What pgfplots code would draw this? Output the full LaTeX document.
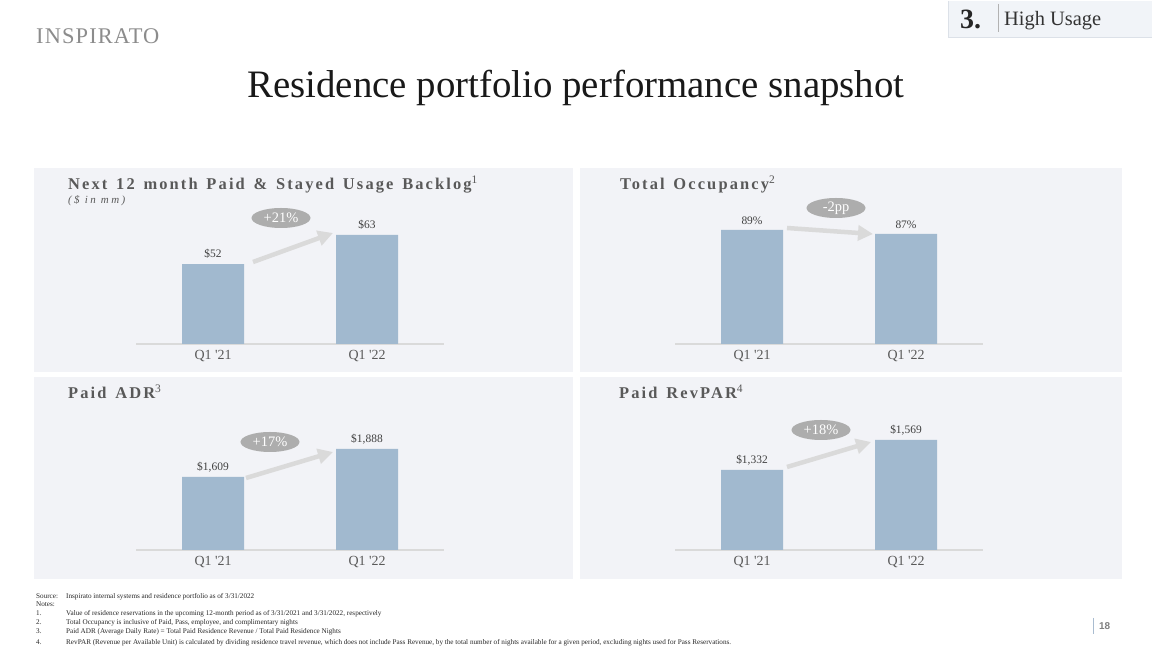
\documentclass[border=0pt]{standalone}
\usepackage{pgfplots}
\pgfplotsset{compat=1.18}
\usepackage{fontspec}
\setmainfont{Liberation Serif}
\newfontfamily\trackfont[LetterSpace=13, WordSpace=1.4]{Liberation Serif}
\newfontfamily\subfont[LetterSpace=22]{Liberation Serif}
\newfontfamily\logofont[LetterSpace=5]{Liberation Serif}
\newfontfamily\sansfont{Liberation Sans}
\usetikzlibrary{arrows.meta,shapes.geometric}
\definecolor{panelbg}{HTML}{F2F3F7}
\definecolor{barblue}{HTML}{A1B9CF}
\definecolor{txtgray}{HTML}{595959}
\definecolor{lblgray}{HTML}{404040}
\definecolor{pillgray}{HTML}{ADADAD}
\definecolor{arrowgray}{HTML}{DADADA}
\definecolor{boxbg}{HTML}{F1F4F8}
\definecolor{boxline}{HTML}{DCE1E8}
\definecolor{pgline}{HTML}{A9BCD0}
\newcommand{\fnsup}[1]{\textsuperscript{\mdseries #1}}
\pgfplotsset{panel/.style={
  scale only axis, width=308bp, height=150bp,
  xmin=-0.5, xmax=1.5,
  axis x line=bottom, axis y line=none,
  axis line style={draw=arrowgray, line width=1.2bp, -},
  xtick={0,1}, xticklabels={Q1 \textquotesingle21, Q1 \textquotesingle22},
  major tick length=0pt, xtick style={draw=none},
  xticklabel style={font=\fontsize{14}{16}\selectfont, text=txtgray, yshift=-3bp},
  ybar, bar width=62bp,
  nodes near coords, point meta=explicit symbolic,
  every node near coord/.append style={font=\fontsize{11.5}{13}\selectfont, text=lblgray, anchor=south, inner sep=0pt, yshift=5bp},
  anchor=south west,
}}
\begin{document}
\begin{tikzpicture}
\useasboundingbox (0,0) rectangle (1152bp,648bp);
\fill[white] (0,0) rectangle (1152bp,648bp);
\begin{scope}[x=1bp, y=-1bp, yshift=648bp]
  % panels
  \fill[panelbg] (34,168) rectangle (573,372);
  \fill[panelbg] (580,168) rectangle (1122,372);
  \fill[panelbg] (34,377) rectangle (573,579);
  \fill[panelbg] (580,377) rectangle (1122,579);
  % logo
  \node[anchor=base west, inner sep=0pt, text=black!45] at (36,44) {\logofont\fontsize{22.5}{24}\selectfont INSPIRATO};
  % top right box
  \fill[boxbg] (948,1) rectangle (1152,37);
  \draw[boxline, line width=0.8bp] (948,1) -- (948,37) -- (1152,37);
  \node[anchor=base west, inner sep=0pt, text=black!85] at (960,29) {\fontsize{28}{29}\selectfont\bfseries 3.};
  \draw[black!30, line width=0.8bp] (998,4) -- (998,32);
  \node[anchor=base west, inner sep=0pt, text=black!80] at (1004,26) {\fontsize{20.5}{22}\selectfont High Usage};
  % title
  \node[anchor=base, inner sep=0pt, text=black!90] at (576,98) {\fontsize{39}{42}\selectfont Residence portfolio performance snapshot};
  % panel titles
  \node[anchor=base west, inner sep=0pt, text=txtgray] at (68,190) {\trackfont\bfseries\fontsize{16.5}{18}\selectfont Next 12 month Paid \& Stayed Usage Backlog\fnsup{1}};
  \node[anchor=base west, inner sep=0pt, text=txtgray] at (68,204) {\subfont\itshape\fontsize{11}{12}\selectfont (\$ in mm)};
  \node[anchor=base west, inner sep=0pt, text=txtgray] at (620,190) {\trackfont\bfseries\fontsize{16.5}{18}\selectfont Total Occupancy\fnsup{2}};
  \node[anchor=base west, inner sep=0pt, text=txtgray] at (68,399) {\trackfont\bfseries\fontsize{16.5}{18}\selectfont Paid ADR\fnsup{3}};
  \node[anchor=base west, inner sep=0pt, text=txtgray] at (619,399) {\trackfont\bfseries\fontsize{16.5}{18}\selectfont Paid RevPAR\fnsup{4}};
\end{scope}
% axes
\begin{axis}[panel, ymin=21.66, ymax=78.55, at={(136bp,304bp)}]
\addplot[fill=barblue, draw=none] coordinates {(0,52) [\$52] (1,63) [\$63]};
\end{axis}
\begin{axis}[panel, ymin=32, ymax=107, at={(675bp,304bp)}]
\addplot[fill=barblue, draw=none] coordinates {(0,89) [89\%] (1,87) [87\%]};
\end{axis}
\begin{axis}[panel, ymin=881.6, ymax=2376.2, at={(136bp,98bp)}]
\addplot[fill=barblue, draw=none] coordinates {(0,1609) [\$1,609] (1,1888) [\$1,888]};
\end{axis}
\begin{axis}[panel, ymin=700, ymax=1885, at={(675bp,98bp)}]
\addplot[fill=barblue, draw=none] coordinates {(0,1332) [\$1,332] (1,1569) [\$1,569]};
\end{axis}
\begin{scope}[x=1bp, y=-1bp, yshift=648bp]
  \tikzset{chg/.style={draw=arrowgray, line width=4.5bp, -{Triangle[length=15bp, width=15bp]}},
           pill/.style={ellipse, fill=pillgray, text=white, minimum width=59bp, minimum height=20bp, inner sep=0pt, font=\fontsize{14.5}{15}\selectfont}}
  \draw[chg] (253,262) -- (333,233);
  \node[pill] at (281,218) {+21\%};
  \draw[chg] (787,228) -- (873,234);
  \node[pill] at (836,208) {-2pp};
  \draw[chg] (246,478) -- (333,452);
  \node[pill] at (270,442) {+17\%};
  \draw[chg] (787,467) -- (871,442);
  \node[pill] at (821,430) {+18\%};
  % footnotes
  \begin{scope}[every node/.style={anchor=base west, inner sep=0pt, text=black!85, font=\fontsize{7.2}{8}\selectfont}]
    \node at (36,599) {Source:};
    \node at (66,599) {Inspirato internal systems and residence portfolio as of 3/31/2022};
    \node at (36,607) {Notes:};
    \node at (36,616) {1.};
    \node at (66,616) {Value of residence reservations in the upcoming 12-month period as of 3/31/2021 and 3/31/2022, respectively};
    \node at (36,625) {2.};
    \node at (66,625) {Total Occupancy is inclusive of Paid, Pass, employee, and complimentary nights};
    \node at (36,634) {3.};
    \node at (66,634) {Paid ADR (Average Daily Rate) = Total Paid Residence Revenue / Total Paid Residence Nights};
    \node at (36,645) {4.};
    \node at (66,645) {RevPAR (Revenue per Available Unit) is calculated by dividing residence travel revenue, which does not include Pass Revenue, by the total number of nights available for a given period, excluding nights used for Pass Reservations.};
  \end{scope}
  % page number
  \draw[pgline, line width=0.8bp] (1093,618) -- (1093,634);
  \node[anchor=base west, inner sep=0pt, text=black!50] at (1099,630) {\sansfont\bfseries\fontsize{10}{11}\selectfont 18};
\end{scope}
\end{tikzpicture}
\end{document}
